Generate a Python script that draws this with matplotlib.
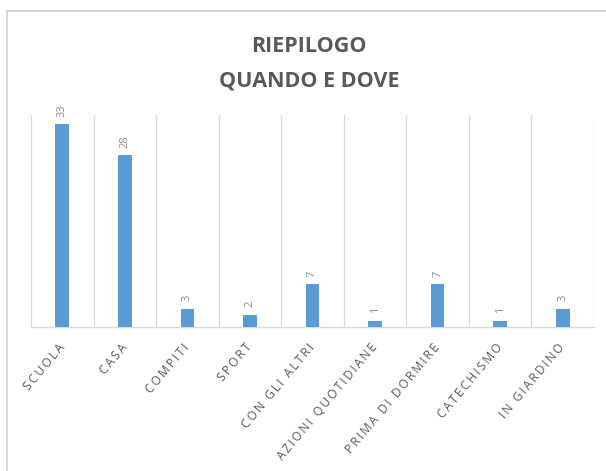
import matplotlib.pyplot as plt
from matplotlib.patches import Rectangle
import numpy as np

# ---- data ----
CATEGORIES = ["SCUOLA", "CASA", "COMPITI", "SPORT", "CON GLI ALTRI",
              "AZIONI QUOTIDIANE", "PRIMA DI DORMIRE", "CATECHISMO", "IN GIARDINO"]
VALUES = [33, 28, 3, 2, 7, 1, 7, 1, 3]
TITLE_LINES = ["RIEPILOGO", "QUANDO E DOVE"]

# ---- style ----
BAR_COLOR = "#5B9BD5"
TEXT_COLOR = "#595959"
LABEL_COLOR = "#8C8C8C"
GRID_COLOR = "#D9D9D9"
FONT = "Open Sans"


def spaced(s, sep="\u2009"):
    # loose letter spacing, as in the chart's label style
    return sep.join(s)


fig = plt.figure(figsize=(6.06, 4.71), dpi=100)

# chart frame (open at the right and bottom edges)
fig.patches.append(Rectangle((7 / 606, -0.05), 1.1, 1.05 - 11 / 471, transform=fig.transFigure,
                             fill=False, edgecolor="#D0D0D0", linewidth=1.2))

ax = fig.add_axes([31 / 606, 1 - 327 / 471, 563 / 606, 212 / 471])

x = np.arange(len(CATEGORIES))
ax.bar(x, VALUES, width=0.22, color=BAR_COLOR, zorder=3)

for xi, v in zip(x, VALUES):
    ax.text(xi, v + 1.2, str(v), rotation=90, ha="center", va="bottom",
            fontsize=8, color=LABEL_COLOR, family=FONT)

ax.set_xlim(-0.5, len(CATEGORIES) - 0.5)
ax.set_ylim(0, 34.5)

# vertical separators between categories
for b in np.arange(-0.5, len(CATEGORIES), 1.0):
    ax.axvline(b, color=GRID_COLOR, linewidth=0.9, zorder=1)

for s in ["top", "right", "left"]:
    ax.spines[s].set_visible(False)
ax.spines["bottom"].set_color(GRID_COLOR)
ax.spines["bottom"].set_linewidth(1.0)

ax.set_yticks([])
ax.set_xticks(x)
ax.set_xticklabels([spaced(c) for c in CATEGORIES], rotation=50, ha="right", va="center",
                   rotation_mode="anchor", fontsize=8.7, color=TEXT_COLOR, family=FONT)
ax.tick_params(axis="x", length=0, pad=13)

for i, line in enumerate(TITLE_LINES):
    fig.text(309 / 606, 1 - (46 + 35 * i) / 471, line, ha="center", va="center",
             fontsize=15.5, fontweight="bold", color=TEXT_COLOR, family=FONT)

fig.savefig("out.png", dpi=100)
